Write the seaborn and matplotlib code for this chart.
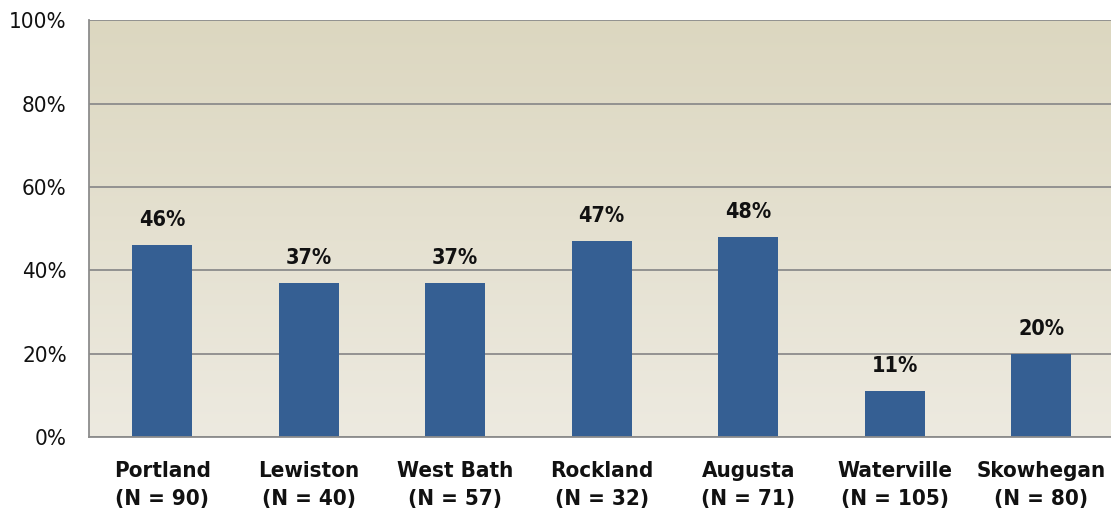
import numpy as np
import pandas as pd
import matplotlib
matplotlib.use("Agg")
import matplotlib.pyplot as plt
import seaborn as sns
from matplotlib import font_manager
from matplotlib.colors import LinearSegmentedColormap

# data
sites = ["Portland", "Lewiston", "West Bath", "Rockland", "Augusta", "Waterville", "Skowhegan"]
counts = [90, 40, 57, 32, 71, 105, 80]
pct = [46, 37, 37, 47, 48, 11, 20]

labels = [f"{s}\n(N = {n})" for s, n in zip(sites, counts)]
df = pd.DataFrame({"site": labels, "pct": pct})

sns.set_style("white")
names = {f.name for f in font_manager.fontManager.ttflist}
if "Liberation Sans Narrow" in names:
    plt.rcParams["font.family"] = ["Liberation Sans Narrow", "DejaVu Sans"]
else:
    plt.rcParams["font.family"] = ["DejaVu Sans"]
    plt.rcParams["font.stretch"] = "condensed"

fig = plt.figure(figsize=(11.11, 5.16), dpi=100)
ax = fig.add_axes([0.0801, 0.153, 0.923, 0.808])

# gradient background, darker tan at top
cmap = LinearSegmentedColormap.from_list("bg", ["#EDEAE0", "#DCD7C0"])
grad = np.linspace(0, 1, 256).reshape(-1, 1)
ax.imshow(grad, aspect="auto", cmap=cmap, origin="lower",
          extent=[-0.5, 6.5, 0, 100], zorder=0)

sns.barplot(data=df, x="site", y="pct", color="#355F93", width=0.41,
            saturation=1, edgecolor="#355F93", linewidth=0, ax=ax, zorder=3)

for i, v in enumerate(pct):
    ax.text(i, v + 3.6, f"{v}%", ha="center", va="bottom",
            fontsize=15.5, fontweight="bold", color="#111111", zorder=4)

ax.set_xlim(-0.5, 6.5)
ax.set_ylim(0, 100)
ax.set_yticks(range(0, 101, 20))
ax.set_yticklabels([f"{t}%" for t in range(0, 101, 20)], fontsize=16, color="#111111")
ax.yaxis.grid(True, color="#8C8C8C", linewidth=1.3)
for line in ax.get_ygridlines():
    line.set_zorder(1)

ax.set_xticks(range(len(labels)))
ax.set_xticklabels(labels, fontsize=16, fontweight="bold", color="#111111",
                   linespacing=1.5)
ax.set_xticks(np.arange(-0.5, 7, 1), minor=True)
ax.tick_params(axis="x", which="major", length=0, pad=17)
ax.tick_params(axis="x", which="minor", length=8, width=1.3, color="#8C8C8C")
ax.tick_params(axis="y", length=8, width=1.3, color="#8C8C8C", pad=8)
ax.set_xlabel("")
ax.set_ylabel("")

for side in ["top", "right"]:
    ax.spines[side].set_visible(False)
for side in ["left", "bottom"]:
    ax.spines[side].set_color("#8C8C8C")
    ax.spines[side].set_linewidth(1.3)
    ax.spines[side].set_zorder(5)

fig.savefig("out.png", dpi=100)
